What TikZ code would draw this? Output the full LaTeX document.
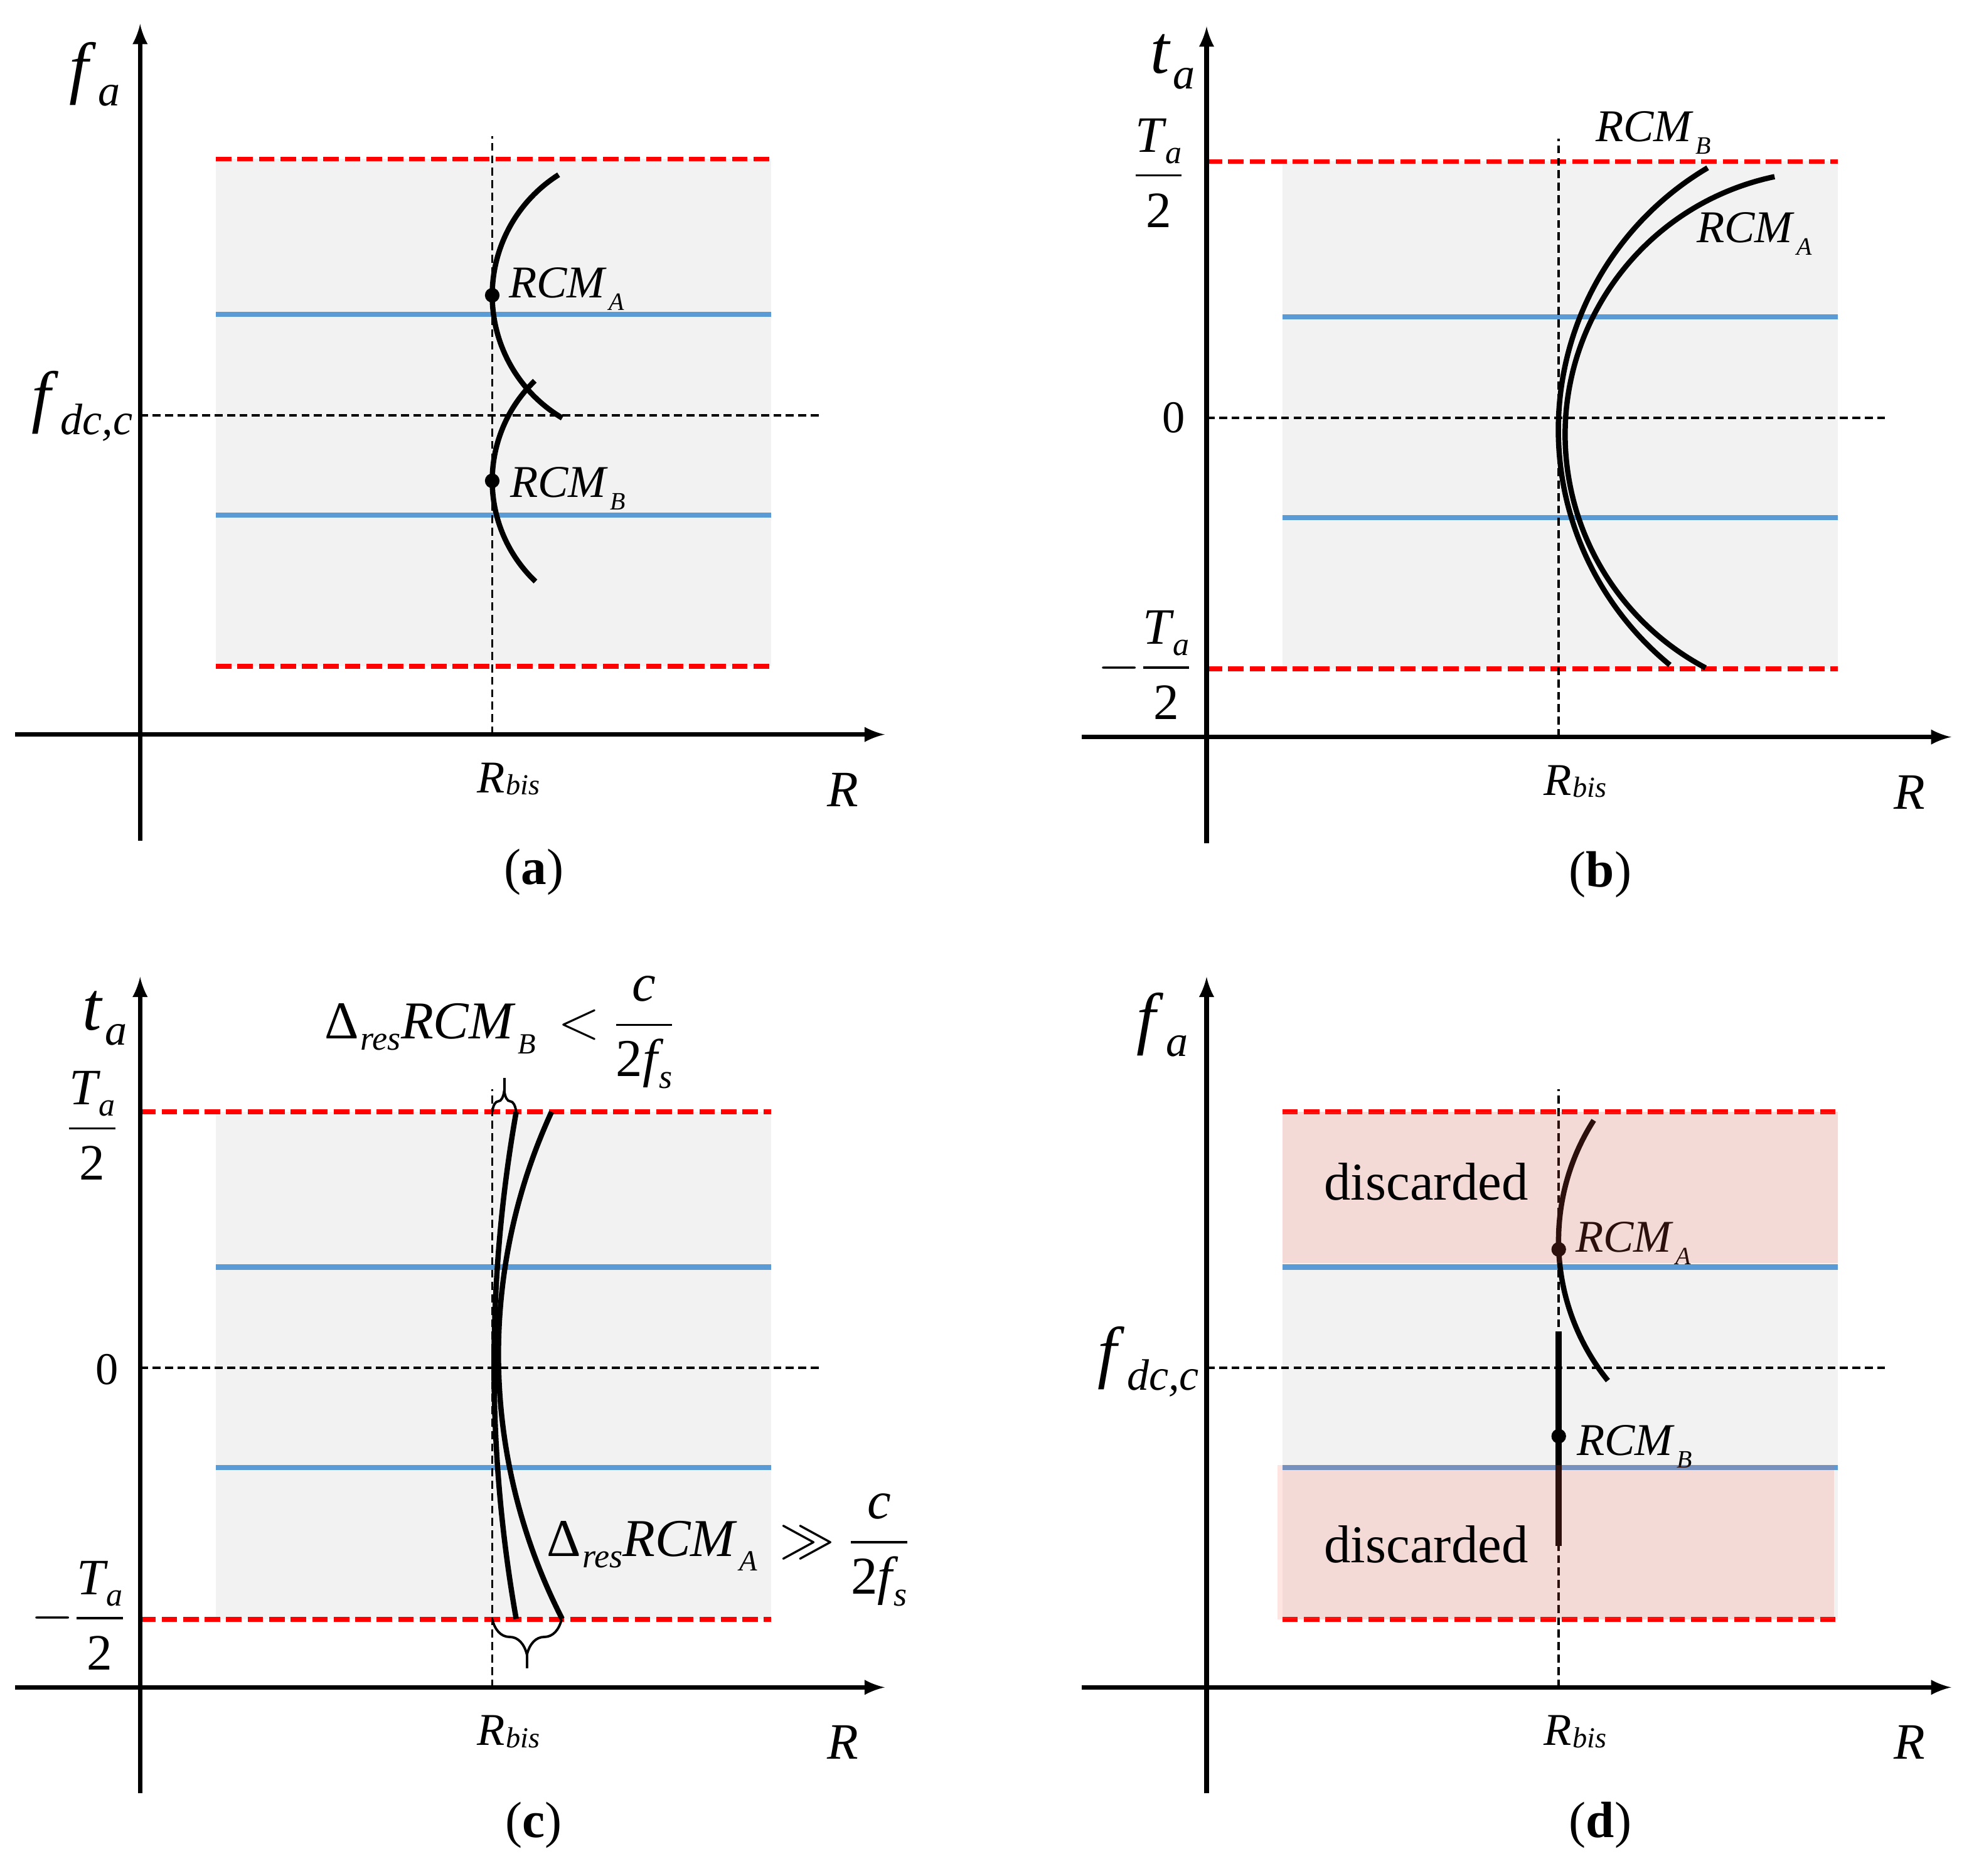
\documentclass[tikz,border=0pt]{standalone}
\usepackage{amsmath,graphicx}
\usepackage{fontspec}
\setmainfont{Liberation Serif}
\usetikzlibrary{arrows,decorations.pathreplacing}

\definecolor{boxgray}{RGB}{242,242,242}
\definecolor{passblue}{RGB}{91,155,213}
\definecolor{cutred}{RGB}{255,100,80}
\newcommand{\mv}[3][0.22em]{\textit{#2}\kern0.03em\raisebox{-#1}{\scalebox{0.64}{\textit{#3}}}}
\newcommand{\rcm}[1]{\textit{RCM}\kern0.04em\raisebox{-0.28em}{\scalebox{0.55}{\textit{#1}}}}
\newcommand{\halfT}{\dfrac{\mv{T}{a}}{\text{2}}}

\begin{document}
\begin{tikzpicture}[x=0.02cm,y=0.02cm,>=latex,
    axisline/.style={->,line width=2.1pt},
    limit/.style={red,line width=2.2pt,dash pattern=on 7pt off 2.7pt},
    pass/.style={passblue,line width=2.3pt},
    guide/.style={line width=1.1pt,dash pattern=on 3.6pt off 2pt},
    rcmline/.style={line width=2.4pt},
    dot/.style={circle,fill,inner sep=0pt,minimum size=6.6pt},
    brc/.style={decorate,line width=1.1pt},
    lab/.style={inner sep=0pt,font=\fontsize{20.5}{25}\selectfont},
    biglab/.style={inner sep=0pt,font=\fontsize{23}{28}\selectfont},
    axlab/.style={inner sep=0pt,font=\fontsize{31}{37}\selectfont},
    panelcap/.style={inner sep=0pt,font=\fontsize{23}{28}\selectfont}]
\useasboundingbox (0,0) rectangle (1568,1486);

% frame shared by the four plots
\foreach \p/\ox/\oy/\rx in {a/111/904/60,b/956/902/0,c/111/149/0,d/956/149/60}{
  \begin{scope}[shift={(\ox,\oy)}]
    \fill[boxgray] (60,54) rectangle (500,456);
    \draw[limit] (\rx,456) -- (500,456);
    \draw[limit] (\rx,54) -- (500,54);
    \draw[pass] (60,333) -- (500,333);
    \draw[pass] (60,174) -- (500,174);
    \draw[guide] (279,0) -- (279,474);
    \draw[guide] (0,253) -- (540,253);
    \draw[axisline] (-99,0) -- (590,0);
    \draw[axisline] (0,-84) -- (0,563);
    \node[lab,anchor=base] at (292,-46) (rb\p) {\mv[0.05em]{R}{bis}};
    \node[lab,anchor=base,font=\fontsize{23}{28}\selectfont] at (557,-57) (r\p) {\textit{R}};
    \node[panelcap] at (312,-109) (cap\p) {(\textbf{\p})};
  \end{scope}}

% (a)
\begin{scope}[shift={(111,904)}]
  \node[axlab] at (-36,523) (fa) {\mv{f}{a}};
  \node[axlab] at (-46,260) (fdca) {\mv{f}{dc,c}};
  \node[dot] at (279,348) (aA) {};
  \node[dot] at (279,201) (aB) {};
  \draw[rcmline] (aA.center) arc[start angle=180,end angle=122.3,radius=113];
  \draw[rcmline] (aA.center) arc[start angle=180,end angle=239.4,radius=113];
  \draw[rcmline] (aB.center) arc[start angle=180,end angle=133.9,radius=110];
  \draw[rcmline] (aB.center) arc[start angle=180,end angle=226.5,radius=110];
  \node[lab,anchor=base west] at (292,346) (labaA) {\rcm{A}};
  \node[lab,anchor=base west] at (293,188) (labaB) {\rcm{B}};
\end{scope}

% (b)
\begin{scope}[shift={(956,902)}]
  \node[axlab] at (-27,535) (tab) {\mv{t}{a}};
  \node[biglab] at (-38,447) (hib) {$\halfT$};
  \node[lab] at (-26,253) (zb) {0};
  \node[biglab] at (-49,57) (lob) {$-\halfT$};
  \coordinate (bB) at (397,451);
  \coordinate (bA) at (450,444);
  \draw[rcmline] (bB) arc[start angle=120.6,end angle=230.7,radius=241];
  \draw[rcmline] (bA) arc[start angle=101.9,end angle=242.1,radius=209];
  \node[lab,anchor=base west] at (308,472) (labbB) {\rcm{B}};
  \node[lab,anchor=base west] at (388,392) (labbA) {\rcm{A}};
\end{scope}

% (c)
\begin{scope}[shift={(111,149)}]
  \node[axlab] at (-28,530) (tac) {\mv{t}{a}};
  \node[biglab] at (-38,445) (hic) {$\halfT$};
  \node[lab] at (-26,252) (zc) {0};
  \node[biglab] at (-49,57) (loc) {$-\halfT$};
  \coordinate (cB) at (298,456);
  \coordinate (cA) at (326,456);
  \draw[rcmline] (cB) arc[start angle=170,end angle=190,radius=1157];
  \draw[rcmline] (cA) arc[start angle=155.3,end angle=207.1,radius=460];
  \draw[brc,decoration={brace,amplitude=9.5pt}] (279,456) -- (cB);
  \draw[line width=1.1pt] (288.5,472) -- (288.5,483);
  \draw[brc,decoration={brace,amplitude=16pt,mirror}] (279,54) -- (334,54);
  \draw[line width=1.1pt] (306.5,27) -- (306.5,15);
  \node[biglab,font=\fontsize{24}{29}\selectfont] at (285,519) (resB) {Δ\mv{}{res}\rcm{B}\, $<$ $\dfrac{\textit{c}}{\text{2}\mv{f}{s}}$};
  \node[biglab,font=\fontsize{24}{29}\selectfont] at (466,109) (resA) {Δ\mv{}{res}\rcm{A}\, $\gg$ $\dfrac{\textit{c}}{\text{2}\mv{f}{s}}$};
\end{scope}

% (d)
\begin{scope}[shift={(956,149)}]
  \node[axlab] at (-35,525) (fad) {\mv{f}{a}};
  \node[axlab] at (-46,258) (fdcd) {\mv{f}{dc,c}};
  \node[dot] at (279,347) (dA) {};
  \node[dot] at (279,199) (dB) {};
  \draw[rcmline] (dA.center) arc[start angle=182.25,end angle=147.4,radius=177];
  \draw[rcmline] (dA.center) arc[start angle=182.25,end angle=218.8,radius=177];
  \draw[line width=2.8pt] (dB.center) ++(0,83) -- ++(0,-170);
  \node[lab,anchor=base west] at (292,345) (labdA) {\rcm{A}};
  \node[lab,anchor=base west] at (293,184) (labdB) {\rcm{B}};
  \fill[cutred,opacity=0.17] (60,336) rectangle (500,456);
  \fill[cutred,opacity=0.17] (56,54) rectangle (497,176);
  \node[font=\fontsize{24}{29}\selectfont,anchor=base] at (174,386) (dis1) {discarded};
  \node[font=\fontsize{24}{29}\selectfont,anchor=base] at (174,99) (dis2) {discarded};
\end{scope}
\end{tikzpicture}
\end{document}
